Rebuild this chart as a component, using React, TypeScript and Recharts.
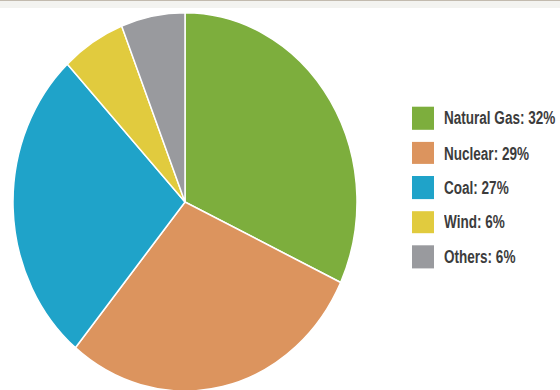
import { PieChart, Pie, Cell, Legend } from "recharts";

const sources = ["Natural Gas", "Nuclear", "Coal", "Wind", "Others"];
const shares = [32, 29, 27, 6, 6];
const colors = ["#7dae3d", "#dc945e", "#1fa3c9", "#e1cb3e", "#999a9e"];

const data = sources.map((name, i) => ({ name, value: shares[i] }));

const SCALE_Y = 1.1;

function LegendBox() {
  return (
    <div style={{ fontFamily: "'Liberation Sans', Arial, sans-serif" }}>
      {data.map((d, i) => (
        <div key={d.name} style={{ display: "flex", alignItems: "center", height: 31.4 }}>
          <span style={{ flexShrink: 0, width: 22, height: 20.5, background: colors[i], display: "inline-block", marginRight: 10 }} />
          <span
            style={{
              display: "inline-block",
              fontSize: 16.5,
              fontWeight: "bold",
              color: "#3c3c3c",
              whiteSpace: "nowrap",
              transform: "scaleX(0.82)",
              transformOrigin: "left center",
            }}
          >
            {`${d.name}: ${d.value}%`}
          </span>
        </div>
      ))}
    </div>
  );
}

export default function App() {
  return (
    <div style={{ position: "absolute", left: 0, top: 0, width: 560, height: 390, background: "#fff", overflow: "hidden" }}>
      <div style={{ height: 1, background: "#c2baae" }} />
      <div style={{ height: 7, background: "#f3f3f0" }} />
      <div style={{ position: "absolute", left: 0, top: 0, transform: `scaleY(${SCALE_Y})`, transformOrigin: "top left" }}>
        <PieChart width={560} height={355} margin={{ top: 0, right: 0, bottom: 0, left: 0 }}>
          <Pie
            data={data}
            dataKey="value"
            nameKey="name"
            cx={185}
            cy={183.6}
            outerRadius={172}
            startAngle={90}
            endAngle={-270}
            stroke="#ffffff"
            strokeWidth={1.5}
            isAnimationActive={false}
          >
            {data.map((d, i) => <Cell key={d.name} fill={colors[i]} />)}
          </Pie>
          <Legend
            layout="vertical"
            content={() => <LegendBox />}
            wrapperStyle={{ left: 412, top: 92, width: 150 }}
          />
        </PieChart>
      </div>
    </div>
  );
}
